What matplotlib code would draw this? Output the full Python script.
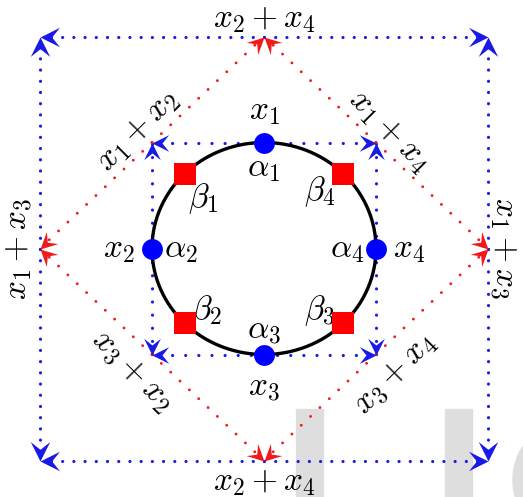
import numpy as np
import matplotlib
matplotlib.use("Agg")
import matplotlib.pyplot as plt
from matplotlib.markers import MarkerStyle
from matplotlib.path import Path
from matplotlib.transforms import Affine2D
from matplotlib.patches import Ellipse, Rectangle

plt.rcParams['mathtext.fontset'] = 'cm'

# diagram data
inner = 1.0          # half side of inner square (= circle radius)
outer = 2.0          # half side of outer square
alpha_angles = [90, 180, 270, 0]
alpha_names = [r'$\alpha_1$', r'$\alpha_2$', r'$\alpha_3$', r'$\alpha_4$']
x_names = [r'$x_1$', r'$x_2$', r'$x_3$', r'$x_4$']
beta_angles = [135, 225, 315, 45]
beta_names = [r'$\beta_1$', r'$\beta_2$', r'$\beta_3$', r'$\beta_4$']
outer_labels = [r'$x_2 + x_4$', r'$x_1 + x_3$', r'$x_2 + x_4$', r'$x_1 + x_3$']
diag_labels = [r'$x_1 + x_2$', r'$x_1 + x_4$', r'$x_3 + x_2$', r'$x_3 + x_4$']

blue = '#1a1ae6'
red = '#f01a1a'
fs = 24

fig = plt.figure(figsize=(5.23, 4.97), dpi=100)
ax = fig.add_axes([0, 0, 1, 1])
ax.set_xlim(-264 / 112, 259 / 112)
ax.set_ylim(-248.5 / 106, 248.5 / 106)
ax.axis('off')

# watermark shapes
for x0 in [296, 445]:
    fig.add_artist(Rectangle((x0 / 523, 0), 27 / 523, 88 / 497, transform=fig.transFigure,
                             color='#dedede', zorder=0))
fig.add_artist(Ellipse((548 / 523, 1 - 480 / 497), 70 / 523, 95 / 497, transform=fig.transFigure,
                       color='#dedede', zorder=0))

head = Path([(0, 0), (-1, 0.5), (-0.6, 0), (-1, -0.5), (0, 0)],
            [Path.MOVETO, Path.LINETO, Path.LINETO, Path.LINETO, Path.CLOSEPOLY])


def arrow(p0, p1, color, lw, gap, size):
    ax.plot([p0[0], p1[0]], [p0[1], p1[1]], color=color, lw=lw,
            linestyle=(0, (0.01, gap)), dash_capstyle='round', zorder=2)
    a = ax.transData.transform([p0, p1])
    ang = np.degrees(np.arctan2(a[1, 1] - a[0, 1], a[1, 0] - a[0, 0]))
    m = MarkerStyle(head, transform=Affine2D().rotate_deg(ang))
    ax.plot(p1[0], p1[1], marker=m, markersize=size, color=color, mew=0, zorder=3)


# outer square: from side midpoints to corners
for sx in [-1, 1]:
    for sy in [-1, 1]:
        arrow((0, sy * outer), (sx * outer, sy * outer), blue, 2.3, 3.5, 28)
        arrow((sx * outer, 0), (sx * outer, sy * outer), blue, 2.3, 3.5, 28)
        # inner square
        arrow((0, sy * inner), (sx * inner, sy * inner), blue, 2.3, 4.1, 24)
        arrow((sx * inner, 0), (sx * inner, sy * inner), blue, 2.3, 4.1, 24)
        # red diamond: inner corners to outer midpoints
        arrow((sx * inner, sy * inner), (0, sy * outer), red, 2.1, 4.4, 24)
        arrow((sx * inner, sy * inner), (sx * outer, 0), red, 2.1, 4.4, 24)

# circle
t = np.linspace(0, 2 * np.pi, 400)
ax.plot(inner * np.cos(t), inner * np.sin(t), color='black', lw=2.4, zorder=4)

px = 1 / 112
py = 1 / 106

for ang, an, xn in zip(alpha_angles, alpha_names, x_names):
    c, s = np.cos(np.radians(ang)), np.sin(np.radians(ang))
    ax.plot(c, s, 'o', color='#0000ff', markersize=15, mew=0, zorder=5)
    ax.text(c + c * 33 * px, s + s * 32 * py, xn, fontsize=fs, ha='center', va='center')
    ax.text(c - c * 29 * px, s - s * 25 * py, an, fontsize=fs, ha='center', va='center')

beta_off = [(19, 25), (22, -13), (-23, -13), (-23, 18)]
for ang, bn, (ox, oy) in zip(beta_angles, beta_names, beta_off):
    c, s = np.cos(np.radians(ang)), np.sin(np.radians(ang))
    ax.plot(c, s, 's', color='#ff0000', markersize=16, mew=0, zorder=5)
    ax.text(c + ox * px, s - oy * py, bn, fontsize=fs, ha='center', va='center')

# outer labels
ax.text(0, outer + 18 * py, outer_labels[0], fontsize=fs, ha='center', va='center')
ax.text(-outer - 22 * px, 0, outer_labels[1], fontsize=fs, ha='center', va='center', rotation=90)
ax.text(0, -outer - 21 * py, outer_labels[2], fontsize=fs, ha='center', va='center')
ax.text(outer + 16 * px, 0, outer_labels[3], fontsize=fs, ha='center', va='center', rotation=-90)

# diagonal labels
diag_pos = [(137, 130, 45), (390, 131, -45), (133, 370, -45), (395, 373, 45)]
for lab, (xp, yp, rot) in zip(diag_labels, diag_pos):
    ax.text((xp - 264) * px, (248.5 - yp) * py, lab, fontsize=fs, ha='center', va='center',
            rotation=rot, rotation_mode='anchor')

fig.savefig('out.png', dpi=100)
